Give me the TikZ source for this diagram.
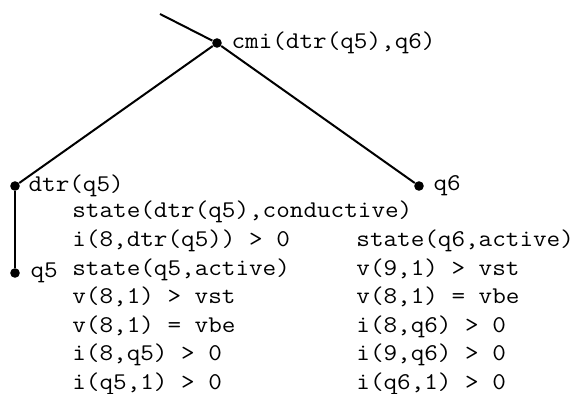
\documentclass[tikz,border=0pt]{standalone}
\usepackage{fontspec}
\setmonofont{Latin Modern Mono}[FakeStretch=1.1]
\usetikzlibrary{positioning}

\tikzset{
  leaf/.style={circle, fill=black, inner sep=0pt, minimum size=4.8pt},
  edge/.style={line width=1pt},
  term/.style={font=\ttfamily\fontsize{12}{15}\selectfont, inner sep=0pt},
  fact/.style={term, anchor=base west}
}

\begin{document}
\begin{tikzpicture}[x=0.5pt, y=-0.5pt]
  \useasboundingbox (0,0) rectangle (577,394);

  %% tree
  \coordinate (top) at (160,14);
  \node[leaf] (cmi) at (217,43) {};
  \node[leaf] (dtr) at (15,186) {};
  \node[leaf] (q6)  at (419,186) {};
  \node[leaf] (q5)  at (15,273) {};

  \draw[edge] (top) -- (cmi);
  \draw[edge] (cmi) -- (dtr);
  \draw[edge] (cmi) -- (q6);
  \draw[edge] (dtr) -- (q5);

  %% names
  \node[term, right=4.5pt of cmi] (cminame) {cmi(dtr(q5),q6)};
  \node[term, right=4pt of dtr] (dtrname) {dtr(q5)};
  \node[term, right=4.5pt of q6] (q6name) {q6};
  \node[term, right=5pt of q5] (q5name) {q5};

  %% facts under dtr(q5) and q5
  \node[fact] (f1) at (72,218) {state(dtr(q5),conductive)};
  \node[fact] (f2) at (72,247) {i(8,dtr(q5)) > 0};
  \node[fact] (f3) at (72,276) {state(q5,active)};
  \node[fact] (f4) at (72,304) {v(8,1) > vst};
  \node[fact] (f5) at (72,333) {v(8,1) = vbe};
  \node[fact] (f6) at (72,361) {i(8,q5) > 0};
  \node[fact] (f7) at (72,390) {i(q5,1) > 0};

  %% facts under q6
  \node[fact] (g1) at (356,247) {state(q6,active)};
  \node[fact] (g2) at (356,276) {v(9,1) > vst};
  \node[fact] (g3) at (356,304) {v(8,1) = vbe};
  \node[fact] (g4) at (356,333) {i(8,q6) > 0};
  \node[fact] (g5) at (356,361) {i(9,q6) > 0};
  \node[fact] (g6) at (356,390) {i(q6,1) > 0};
\end{tikzpicture}
\end{document}
